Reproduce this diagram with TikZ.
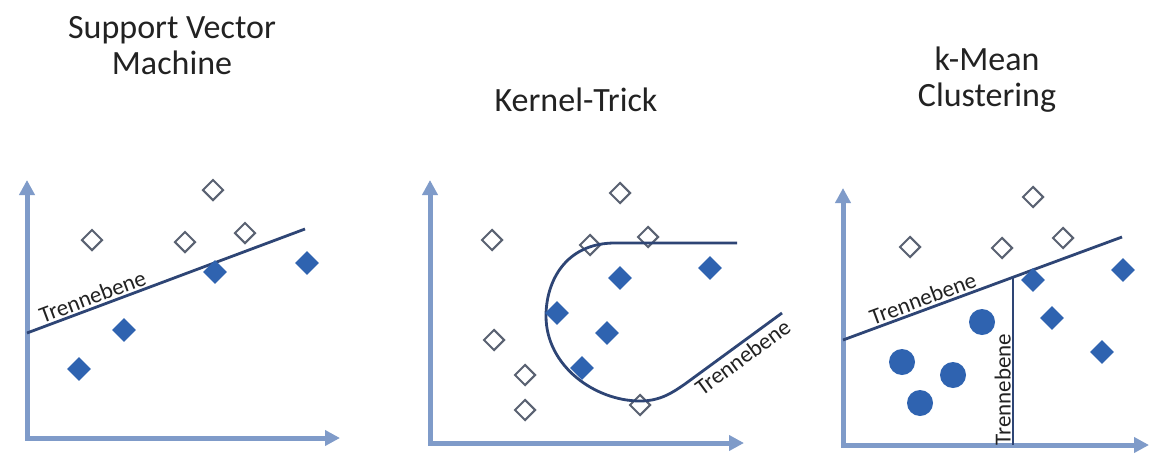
\documentclass[tikz,border=0pt]{standalone}
\usepackage{fontspec}
\setmainfont{Carlito}
\usetikzlibrary{arrows.meta,shapes.geometric,calc}
\definecolor{axiscol}{HTML}{7F9BC9}
\definecolor{sepcol}{HTML}{2E4575}
\definecolor{hollowcol}{HTML}{5A6272}
\definecolor{fillcol}{HTML}{2F63B0}
\definecolor{textcol}{HTML}{222222}
\begin{document}
\begin{tikzpicture}[x=1pt,y=-1pt,
  axis/.style={draw=axiscol, line width=5pt, {Triangle[length=15pt,width=15pt]}-{Triangle[length=15pt,width=15pt]}},
  sepline/.style={draw=sepcol, line width=2.8pt},
  hollow/.style={diamond, draw=hollowcol, line width=2pt, fill=white, minimum width=21pt, minimum height=21pt, inner sep=0pt},
  filled/.style={diamond, fill=fillcol, minimum width=24pt, minimum height=24pt, inner sep=0pt},
  dot/.style={circle, fill=fillcol, minimum size=26pt, inner sep=0pt},
  title/.style={text=textcol, align=center, font=\fontsize{34}{36}\selectfont},
  sep/.style={text=textcol, font=\fontsize{23}{25}\selectfont, inner sep=2pt}
]
\useasboundingbox (0,0) rectangle (1150,458);
\fill[white] (0,0) rectangle (1150,458);

% ---------- Panel 1: SVM ----------
\node[title] (t1) at (172,46) {Support Vector\\Machine};
\coordinate (o1) at (27,438);
\coordinate (y1) at (27,180);
\coordinate (x1) at (340,438);
\draw[axis] (y1) -- (o1) -- (x1);
\coordinate (l1a) at (27,333);
\coordinate (l1b) at (305,229);
\draw[sepline] (l1a) -- (l1b) node[sep, pos=0.25, sloped, above] (s1) {Trennebene};
\node[hollow] (h11) at (92,240) {};
\node[hollow] (h12) at (213,190) {};
\node[hollow] (h13) at (185,242) {};
\node[hollow] (h14) at (245,233) {};
\node[filled] (f11) at (215,272) {};
\node[filled] (f12) at (307,263) {};
\node[filled] (f13) at (124,330) {};
\node[filled] (f14) at (79,369) {};

% ---------- Panel 2: Kernel-Trick ----------
\node[title] (t2) at (576,100) {Kernel-Trick};
\coordinate (o2) at (430,443);
\coordinate (y2) at (430,180);
\coordinate (x2) at (744,443);
\draw[axis] (y2) -- (o2) -- (x2);
\node[hollow] (h21) at (492,240) {};
\node[hollow] (h22) at (620,193) {};
\node[hollow] (h23) at (590,245) {};
\node[hollow] (h24) at (648,237) {};
\node[hollow] (h25) at (494,340) {};
\node[hollow] (h26) at (525,375) {};
\node[hollow] (h27) at (525,410) {};
\node[hollow] (h28) at (640,405) {};
\coordinate (k1) at (737,243);
\coordinate (k2) at (685,384);
\coordinate (k3) at (782,313);
\draw[sepline] (k1) -- (615,243) .. controls (565,243) and (546,282) .. (546,316)
  .. controls (546,366) and (595,401) .. (640,401)
  .. controls (660,401) and (672,393) .. (k2) -- (k3);
\path (k2) -- (k3) node[sep, pos=0.52, sloped, below, yshift=-2pt] (s2) {Trennebene};
\node[filled] (f21) at (620,278) {};
\node[filled] (f22) at (710,268) {};
\node[filled] (f23) at (557,313) {};
\node[filled] (f24) at (607,333) {};
\node[filled] (f25) at (582,368) {};

% ---------- Panel 3: k-Mean Clustering ----------
\node[title] (t3) at (987,80) {k-Mean\\Clustering};
\coordinate (o3) at (843,445);
\coordinate (y3) at (843,188);
\coordinate (x3) at (1149,445);
\draw[axis] (y3) -- (o3) -- (x3);
\coordinate (l3a) at (843,340);
\coordinate (l3b) at (1122,237);
\draw[sepline] (l3a) -- (l3b) node[sep, pos=0.30, sloped, above] (s3) {Trennebene};
\coordinate (v3) at ($(l3a)!0.609!(l3b)$);
\coordinate (v3b) at (v3 |- o3);
\draw[sepline] (v3b) -- (v3);
\path (v3b) -- (v3) node[sep, pos=0.33, sloped, above] (s4) {Trennebene};
\node[hollow] (h31) at (910,247) {};
\node[hollow] (h32) at (1033,197) {};
\node[hollow] (h33) at (1002,248) {};
\node[hollow] (h34) at (1063,238) {};
\node[filled] (f31) at (1033,280) {};
\node[filled] (f32) at (1123,270) {};
\node[filled] (f33) at (1052,318) {};
\node[filled] (f34) at (1102,352) {};
\node[dot] (c31) at (982,322) {};
\node[dot] (c32) at (902,362) {};
\node[dot] (c33) at (953,375) {};
\node[dot] (c34) at (920,403) {};
\end{tikzpicture}
\end{document}
